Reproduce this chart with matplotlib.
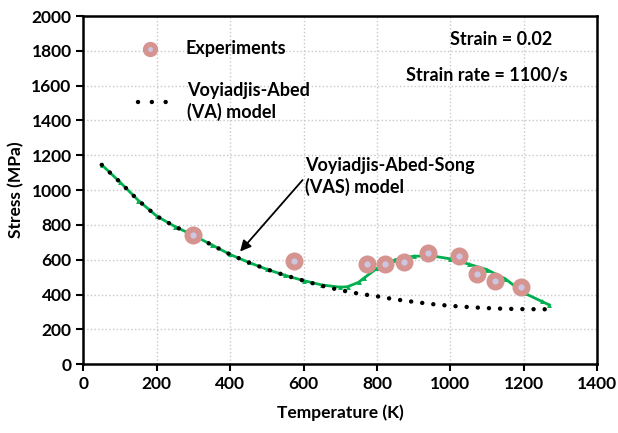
import matplotlib
matplotlib.use('Agg')
import matplotlib.pyplot as plt

# experiments
exp_T = [300, 573, 773, 823, 873, 938, 1023, 1073, 1123, 1193]
exp_S = [743, 594, 576, 576, 588, 641, 624, 519, 475, 442]

# Voyiadjis-Abed (VA) model
va_T = [50, 100, 150, 200, 250, 300, 350, 400, 450, 500, 550, 600, 650, 700,
        750, 800, 850, 900, 950, 1000, 1050, 1100, 1150, 1200, 1270]
va_S = [1145, 1045, 940, 850, 790, 740, 685, 630, 585, 545, 510, 480, 450, 425,
        405, 390, 372, 358, 345, 335, 328, 322, 318, 316, 315]

# Voyiadjis-Abed-Song (VAS) model
vas_T = [50, 100, 150, 200, 250, 300, 350, 400, 450, 500, 550, 600, 650, 700,
         720, 750, 765, 800, 850, 900, 950, 1000, 1050, 1100, 1150, 1200, 1250, 1270]
vas_S = [1145, 1045, 940, 850, 790, 740, 685, 630, 585, 545, 510, 480, 455, 442,
         445, 470, 495, 550, 600, 620, 622, 605, 575, 543, 490, 410, 360, 340]

font = {'family': 'Lato', 'weight': 'bold'}
matplotlib.rc('font', **font)
matplotlib.rcParams['axes.labelweight'] = 'bold'

fig = plt.figure(figsize=(6.18, 4.33), dpi=100)
ax = fig.add_axes([0.135, 0.159, 0.831, 0.804])

dots = (0, (0.01, 2.5))

ax.plot(vas_T, vas_S, color='#00b050', lw=2.0, marker='^', ms=3.5,
        markeredgewidth=0, zorder=3)
ax.plot(va_T, va_S, color='black', lw=3.2, linestyle=dots,
        dash_capstyle='round', zorder=4)
ax.plot(exp_T, exp_S, linestyle='none', marker='o', ms=13, color='#d59490',
        markeredgewidth=0, zorder=5)
ax.plot(exp_T, exp_S, linestyle='none', marker='o', ms=4.5, color='#cdc6e2',
        markeredgewidth=0, zorder=6)

# legend drawn by hand
ax.plot([182], [1812], linestyle='none', marker='o', ms=11, color='#d59490',
        markeredgewidth=0)
ax.plot([182], [1812], linestyle='none', marker='o', ms=3.5, color='#cdc6e2',
        markeredgewidth=0)
ax.text(277, 1812, 'Experiments', fontsize=13, va='center')
ax.plot([150, 242], [1507, 1507], color='black', lw=3.2,
        linestyle=(0, (0.01, 3.1)), dash_capstyle='round')
ax.text(283, 1507, 'Voyiadjis-Abed\n(VA) model', fontsize=13, va='center',
        linespacing=1.25)

ax.text(1139, 1864, 'Strain = 0.02', fontsize=13, ha='center', va='center')
ax.text(1101, 1657, 'Strain rate = 1100/s', fontsize=13, ha='center', va='center')

ax.annotate('Voyiadjis-Abed-Song\n(VAS) model', xy=(427, 647), xytext=(605, 1076),
            fontsize=13, va='center', ha='left', linespacing=1.25,
            arrowprops=dict(arrowstyle='-|>', color='black', lw=1.3,
                            mutation_scale=16, shrinkA=0, shrinkB=0,
                            relpos=(0, 0.5)))

ax.set_xlim(0, 1400)
ax.set_ylim(0, 2000)
ax.set_xticks(range(0, 1401, 200))
ax.set_yticks(range(0, 2001, 200))
ax.grid(True, linestyle=':', color='#c8c8c8', lw=1)
ax.set_axisbelow(True)
for s in ax.spines.values():
    s.set_color('black')
    s.set_linewidth(1.8)
ax.tick_params(direction='out', length=5, width=1.5, labelsize=12.5)
for lb in ax.get_xticklabels() + ax.get_yticklabels():
    lb.set_fontweight('bold')
ax.set_xlabel('Temperature (K)', fontsize=12.5, labelpad=9)
ax.set_ylabel('Stress (MPa)', fontsize=12.5, labelpad=5)

fig.savefig('out.png', dpi=100)
